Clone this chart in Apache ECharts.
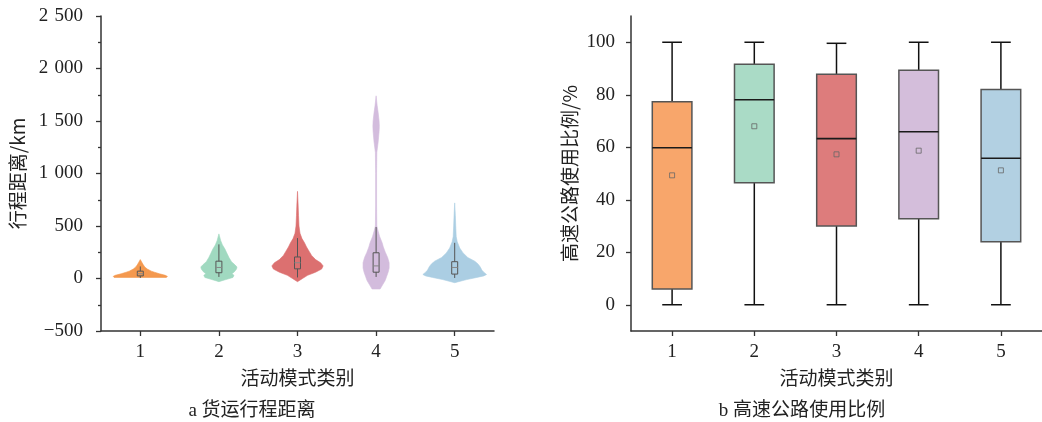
<!DOCTYPE html>
<html>
<head>
<meta charset="utf-8">
<script src="https://cdn.jsdelivr.net/npm/echarts@6/dist/echarts.min.js"></script>
<style>html,body{margin:0;padding:0;background:#fff}#c{width:1042px;height:422px}</style>
</head>
<body>
<div id="c"></div>
<script>
// ---------- data ----------
const categories = ['1', '2', '3', '4', '5'];

// Violin outlines (left panel): distance values (km) and half-width (fraction of a category band)
const violin1Y = [10, 20, 30, 45, 60, 70, 90, 110, 130, 155, 180];
const violin1W = [0.332, 0.345, 0.319, 0.243, 0.179, 0.140, 0.089, 0.057, 0.038, 0.019, 0];
const violin2Y = [-30, -10, 10, 30, 45, 65, 90, 110, 130, 160, 200, 240, 280, 320, 360, 425];
const violin2W = [0, 0.089, 0.179, 0.192, 0.166, 0.198, 0.224, 0.230, 0.204, 0.160, 0.128, 0.102, 0.077, 0.045, 0.023, 0];
const violin3Y = [-30, 0, 30, 60, 90, 120, 150, 180, 220, 260, 300, 340, 380, 430, 500, 600, 700, 830];
const violin3W = [0, 0.064, 0.128, 0.230, 0.307, 0.326, 0.294, 0.230, 0.179, 0.147, 0.115, 0.089, 0.057, 0.032, 0.019, 0.013, 0.008, 0];
const violin4Y = [-100, -60, -20, 20, 60, 100, 150, 200, 250, 300, 340, 400, 450, 500, 700, 1000, 1200, 1300, 1400, 1450, 1500, 1580, 1650, 1740];
const violin4W = [0.051, 0.083, 0.115, 0.134, 0.153, 0.166, 0.166, 0.147, 0.117, 0.092, 0.077, 0.045, 0.026, 0.009, 0.006, 0.006, 0.009, 0.026, 0.038, 0.041, 0.038, 0.026, 0.013, 0];
const violin5Y = [-40, -10, 10, 25, 38, 60, 80, 100, 117, 140, 165, 200, 244, 290, 350, 400, 500, 600, 720];
const violin5W = [0, 0.153, 0.281, 0.370, 0.405, 0.370, 0.345, 0.332, 0.319, 0.294, 0.255, 0.166, 0.106, 0.064, 0.032, 0.019, 0.013, 0.008, 0];

// Inner box plots of the violins (km)
const distMin = [5, 15, 10, 15, 5];
const distQ1 = [25, 55, 92, 60, 42];
const distMed = [45, 105, 150, 120, 105];
const distQ3 = [70, 165, 205, 245, 160];
const distMax = [115, 325, 385, 490, 340];

// Right panel box plots (%)
const hwMin = [0, 0, 0, 0, 0];
const hwQ1 = [6.0, 46.5, 30.0, 32.8, 24.0];
const hwMed = [59.8, 78.1, 63.3, 65.9, 55.8];
const hwQ3 = [77.3, 91.6, 87.8, 89.3, 82.0];
const hwMax = [100, 100, 99.6, 100, 100];
const hwMean = [49.3, 68.0, 57.3, 58.7, 51.2];

const rightTicks = [0, 20, 40, 60, 80, 100];
const rightMinorTicks = [-10, 10, 30, 50, 70, 90];

// ---------- styles ----------
const violinColors = ['#F4994F', '#A0D9C0', '#DC7070', '#D3BCDD', '#ABCEE3'];
const boxColors = ['#F8A66B', '#AADBC6', '#DD7C7C', '#D4BEDB', '#B2D0E2'];
const FONT = "'Liberation Serif', 'Noto Sans CJK SC', serif";
const CJK = "'Noto Sans CJK SC', 'Liberation Serif', sans-serif";
const AX = '#333';

const violinY = [violin1Y, violin2Y, violin3Y, violin4Y, violin5Y];
const violinW = [violin1W, violin2W, violin3W, violin4W, violin5W];

function fmtThousands(v) {
  const s = String(Math.abs(v));
  const t = s.length > 3 ? s.slice(0, s.length - 3) + '\u2004' + s.slice(s.length - 3) : s;
  return (v < 0 ? '\u2212' : '') + t;
}

const chart = echarts.init(document.getElementById('c'), null, { renderer: 'canvas' });

function axisCommon() {
  return {
    axisLine: { show: true, onZero: false, lineStyle: { color: AX, width: 1.5 } },
    splitLine: { show: false },
  };
}

function xAxisFor(idx) {
  return Object.assign(axisCommon(), {
    type: 'category', gridIndex: idx, data: categories, boundaryGap: true,
    axisTick: { show: true, alignWithLabel: true, length: 5, lineStyle: { color: AX, width: 1.3 } },
    axisLabel: { fontFamily: FONT, fontSize: 19, color: '#222', margin: 12 },
    name: '活动模式类别', nameLocation: 'middle', nameGap: 37,
    nameTextStyle: { fontFamily: CJK, fontSize: 19, color: '#222' }
  });
}

const option = {
  backgroundColor: '#fff',
  animation: false,
  grid: [
    { left: 101, top: 16, width: 393, height: 315 },
    { left: 631, top: 16, width: 415, height: 315 }
  ],
  xAxis: [xAxisFor(0), xAxisFor(1)],
  yAxis: [
    Object.assign(axisCommon(), {
      type: 'value', gridIndex: 0, min: -500, max: 2500, interval: 500,
      axisTick: { show: true, length: 5, lineStyle: { color: AX, width: 1.3 } },
      minorTick: { show: true, splitNumber: 2, length: 3, lineStyle: { color: AX, width: 1.3 } },
      axisLabel: { fontFamily: FONT, fontSize: 19, color: '#222', margin: 18, formatter: fmtThousands },
      name: '行程距离/km', nameLocation: 'middle', nameGap: 74, nameRotate: 90,
      nameTextStyle: { fontFamily: CJK, fontSize: 19, color: '#222' }
    }),
    Object.assign(axisCommon(), {
      type: 'value', gridIndex: 1, min: -10, max: 110,
      axisTick: { show: true, length: 5, customValues: rightTicks, lineStyle: { color: AX, width: 1.3 } },
      axisLabel: { fontFamily: FONT, fontSize: 19, color: '#222', margin: 16, customValues: rightTicks },
      name: '高速公路使用比例/%', nameLocation: 'middle', nameGap: 52, nameRotate: 90,
      nameTextStyle: { fontFamily: CJK, fontSize: 19, color: '#222' }
    }),
    {
      type: 'value', gridIndex: 1, min: -10, max: 110,
      axisLine: { show: false }, splitLine: { show: false },
      axisTick: { show: true, length: 3, customValues: rightMinorTicks, lineStyle: { color: AX, width: 1.3 } },
      axisLabel: { show: false }
    }
  ],
  graphic: [
    { type: 'text', x: 252, y: 411, style: { text: 'a 货运行程距离', font: '19px ' + FONT, fill: '#222', textAlign: 'center', textVerticalAlign: 'middle' } },
    { type: 'text', x: 802, y: 411, style: { text: 'b 高速公路使用比例', font: '19px ' + FONT, fill: '#222', textAlign: 'center', textVerticalAlign: 'middle' } }
  ],
  series: [
    {
      type: 'custom', xAxisIndex: 0, yAxisIndex: 0,
      data: categories.map((c, i) => [i, distMed[i]]),
      encode: { x: 0, y: 1 },
      renderItem: function (params, api) {
        const i = params.dataIndex;
        const band = api.size([1, 0])[0];
        const cx = api.coord([i, 0])[0];
        const ys = violinY[i], ws = violinW[i];
        const right = [], left = [];
        for (let k = 0; k < ys.length; k++) {
          const py = api.coord([i, ys[k]])[1];
          right.push([cx + ws[k] * band, py]);
          left.push([cx - ws[k] * band, py]);
        }
        const pts = right.concat(left.reverse());
        const bw = 0.038 * band;
        const yMin = api.coord([i, distMin[i]])[1];
        const yQ1 = api.coord([i, distQ1[i]])[1];
        const yMed = api.coord([i, distMed[i]])[1];
        const yQ3 = api.coord([i, distQ3[i]])[1];
        const yMax = api.coord([i, distMax[i]])[1];
        const ls = { stroke: '#555', lineWidth: 1, fill: null };
        return {
          type: 'group',
          children: [
            { type: 'polygon', shape: { points: pts }, style: { fill: violinColors[i], stroke: violinColors[i], lineWidth: 0.6 } },
            { type: 'line', shape: { x1: cx, y1: yMin, x2: cx, y2: yQ1 }, style: ls },
            { type: 'line', shape: { x1: cx, y1: yQ3, x2: cx, y2: yMax }, style: ls },
            { type: 'rect', shape: { x: cx - bw, y: yQ3, width: 2 * bw, height: yQ1 - yQ3 }, style: ls },
            { type: 'line', shape: { x1: cx - bw, y1: yMed, x2: cx + bw, y2: yMed }, style: { stroke: '#888', lineWidth: 1 } }
          ]
        };
      }
    },
    {
      type: 'custom', xAxisIndex: 1, yAxisIndex: 1,
      data: categories.map((c, i) => [i, hwMed[i]]),
      encode: { x: 0, y: 1 },
      renderItem: function (params, api) {
        const i = params.dataIndex;
        const band = api.size([1, 0])[0];
        const cx = api.coord([i, 0])[0];
        const hb = 0.241 * band, hc = 0.12 * band;
        const yMin = api.coord([i, hwMin[i]])[1];
        const yQ1 = api.coord([i, hwQ1[i]])[1];
        const yMed = api.coord([i, hwMed[i]])[1];
        const yQ3 = api.coord([i, hwQ3[i]])[1];
        const yMax = api.coord([i, hwMax[i]])[1];
        const ws = { stroke: '#111', lineWidth: 1.5 };
        return {
          type: 'group',
          children: [
            { type: 'line', shape: { x1: cx, y1: yMin, x2: cx, y2: yQ1 }, style: ws },
            { type: 'line', shape: { x1: cx, y1: yQ3, x2: cx, y2: yMax }, style: ws },
            { type: 'line', shape: { x1: cx - hc, y1: yMin, x2: cx + hc, y2: yMin }, style: ws },
            { type: 'line', shape: { x1: cx - hc, y1: yMax, x2: cx + hc, y2: yMax }, style: ws },
            { type: 'rect', shape: { x: cx - hb, y: yQ3, width: 2 * hb, height: yQ1 - yQ3 }, style: { fill: boxColors[i], stroke: '#555', lineWidth: 1.5 } },
            { type: 'line', shape: { x1: cx - hb, y1: yMed, x2: cx + hb, y2: yMed }, style: { stroke: '#1a1a1a', lineWidth: 1.6 } }
          ]
        };
      }
    },
    {
      type: 'scatter', xAxisIndex: 1, yAxisIndex: 1,
      data: categories.map((c, i) => [i, hwMean[i]]),
      symbol: 'rect', symbolSize: 5,
      itemStyle: { color: 'rgba(255,255,255,0)', borderColor: '#666', borderWidth: 1 },
      z: 5
    }
  ]
};
chart.setOption(option);
</script>
</body>
</html>
